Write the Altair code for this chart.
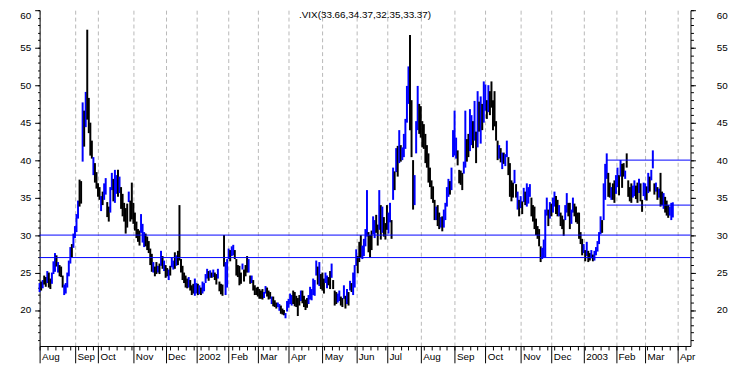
import altair as alt
import pandas as pd

# ---------------- data (daily bars, trading-day index) ----------------
HIGH = [
    # Aug 2001
    23.6, 23.8, 24.0, 24.6, 24.4, 25.2, 25.0, 24.2, 25.0, 26.5, 27.6, 27.3, 26.4, 26.0, 25.8, 24.6, 23.4, 23.6, 25.0, 26.6, 28.4, 28.8, 30.2,
    # Sep 2001
    31.2, 32.8, 34.6, 37.4, 37.2, 47.7, 46.6, 49.1, 57.4, 48.3, 45.0, 42.6, 40.4, 39.6, 38.4,
    # Oct 2001
    36.9, 36.4, 35.2, 35.8, 36.9, 37.6, 34.4, 33.8, 36.4, 38.3, 37.5, 38.7, 38.0, 38.7, 37.8, 36.4, 35.5, 34.3, 33.6, 34.2, 35.8, 34.6, 37.0,
    # Nov 2001
    34.3, 33.0, 31.8, 30.8, 30.6, 32.8, 31.5, 30.4, 30.2, 29.8, 29.2, 28.2, 27.5, 26.4, 25.8, 26.4, 25.9, 26.2, 27.9, 27.2, 26.6,
    # Dec 2001
    26.0, 25.6, 25.4, 25.9, 27.0, 26.6, 27.7, 27.3, 27.9, 34.0, 26.8, 25.9, 25.0, 24.6, 24.2, 24.4, 24.0, 23.3, 23.5, 24.2,
    # Jan 2002
    23.6, 23.5, 23.3, 23.0, 23.8, 23.6, 24.8, 25.5, 25.2, 25.3, 25.0, 25.4, 25.0, 24.8, 25.5, 23.8, 23.5, 23.4, 30.0, 26.4, 26.8,
    # Feb 2002
    28.2, 28.0, 28.5, 28.7, 28.0, 26.8, 26.0, 25.9, 25.0, 26.2, 25.4, 26.0, 27.2, 26.8, 24.6, 24.6, 24.0, 23.3, 23.0,
    # Mar 2002
    23.1, 22.8, 22.6, 22.8, 22.4, 23.2, 23.0, 22.6, 22.4, 21.8, 21.8, 21.3, 21.0, 21.0, 20.8, 20.6, 20.2, 20.0, 19.6, 21.2,
    # Apr 2002
    21.5, 22.2, 22.0, 22.6, 22.4, 21.9, 21.6, 22.0, 22.6, 22.6, 21.9, 21.4, 21.6, 22.0, 23.1, 22.8, 24.2, 24.0, 26.6, 25.8, 26.4, 24.8,
    # May 2002
    25.0, 24.2, 25.0, 24.6, 24.4, 25.2, 26.2, 24.0, 22.6, 22.4, 22.2, 22.6, 21.8, 21.6, 23.3, 21.9, 22.8, 22.4, 23.9, 23.6, 25.0, 26.0,
    # Jun 2002
    28.1, 27.2, 29.1, 30.0, 28.6, 29.5, 30.8, 36.0, 30.4, 30.0, 30.6, 32.5, 32.0, 32.7, 31.4, 36.0, 34.0, 33.8, 32.4, 31.6,
    # Jul 2002
    34.0, 33.0, 34.3, 32.0, 39.0, 38.5, 41.6, 41.9, 44.0, 42.0, 41.7, 43.5, 45.5, 49.9, 52.5, 56.7, 48.0, 40.0, 38.0, 45.2, 49.9, 47.5,
    # Aug 2002
    47.2, 45.2, 44.8, 43.5, 42.0, 40.9, 39.0, 37.3, 36.5, 34.7, 33.8, 34.0, 33.0, 32.4, 32.5, 33.4, 34.3, 36.4, 37.5, 37.2, 39.0, 44.0,
    # Sep 2002
    46.6, 43.0, 41.3, 38.7, 38.6, 38.3, 39.8, 46.6, 42.8, 43.5, 46.8, 46.0, 45.2, 47.9, 43.8, 49.2, 47.8, 48.5, 47.5, 50.5,
    # Oct 2002
    50.1, 48.0, 50.0, 49.2, 50.5, 48.0, 49.2, 45.2, 42.6, 42.0, 41.6, 41.0, 41.0, 40.8, 42.6, 40.4, 39.6, 37.3, 37.0, 38.7, 36.8, 35.8, 34.7,
    # Nov 2002
    35.2, 34.5, 36.3, 35.8, 36.9, 36.4, 36.8, 35.0, 34.0, 33.8, 32.2, 31.2, 30.8, 28.5, 28.3, 29.4, 33.4, 35.0, 33.4, 34.4,
    # Dec 2002
    34.2, 35.0, 35.8, 35.2, 34.7, 34.0, 33.0, 32.6, 32.1, 34.0, 35.6, 34.3, 34.3, 33.4, 35.0, 34.2, 33.8, 33.0, 33.0, 30.4, 29.5,
    # Jan 2003
    28.8, 28.0, 29.1, 27.9, 27.6, 28.0, 27.4, 27.9, 28.4, 29.2, 30.4, 32.5, 32.0, 36.9, 39.5, 40.9, 38.3, 37.0, 36.4, 36.9, 37.3,
    # Feb 2003
    38.0, 39.0, 38.0, 40.0, 39.5, 39.6, 38.6, 40.9, 37.3, 36.4, 36.9, 36.6, 37.3, 36.6, 37.0, 37.5, 36.9, 34.7, 37.0,
    # Mar 2003
    36.9, 36.5, 38.3, 37.8, 38.7, 41.3, 36.9, 37.0, 36.4, 36.2, 38.3, 35.8, 35.6, 35.1, 34.6, 34.0, 33.8, 34.3, 34.37,
]

LOW = [
    22.4, 22.6, 22.9, 23.4, 23.1, 23.6, 23.0, 22.8, 23.5, 24.8, 25.1, 25.8, 25.0, 24.5, 24.4, 23.0, 22.0, 22.2, 23.0, 24.5, 26.2, 27.0, 28.3,
    29.6, 30.4, 32.2, 33.8, 34.2, 39.8, 41.8, 44.4, 45.4, 43.6, 40.6, 40.2, 38.0, 37.0, 36.2,
    35.1, 34.7, 33.2, 34.0, 34.7, 35.4, 32.4, 31.8, 33.0, 36.0, 34.5, 34.3, 35.5, 35.1, 35.6, 33.5, 32.5, 31.8, 30.2, 31.0, 34.4, 31.8, 32.1,
    31.5, 30.6, 29.6, 29.1, 28.6, 30.3, 29.0, 28.4, 28.5, 28.0, 27.6, 26.0, 25.1, 25.0, 24.5, 24.8, 25.0, 24.8, 25.9, 25.5, 25.2,
    24.3, 24.5, 24.0, 24.6, 25.7, 25.4, 25.5, 25.9, 26.0, 26.6, 25.0, 24.0, 23.6, 23.0, 22.9, 23.0, 22.6, 22.0, 22.2, 21.9,
    22.2, 22.0, 22.1, 22.0, 22.2, 22.5, 23.6, 24.2, 23.9, 24.3, 24.3, 24.4, 24.0, 23.4, 24.2, 22.5, 22.1, 21.9, 25.8, 22.0, 23.0,
    26.8, 26.5, 27.2, 27.3, 26.8, 24.6, 24.4, 23.3, 23.5, 25.4, 23.8, 24.5, 25.0, 25.0, 23.5, 23.6, 22.6, 22.0, 22.0,
    21.8, 21.5, 21.5, 21.4, 21.6, 22.2, 21.8, 21.4, 21.5, 20.8, 20.5, 20.4, 20.2, 20.4, 19.9, 19.5, 19.4, 19.3, 18.9, 19.8,
    20.3, 20.8, 20.6, 20.8, 20.5, 20.4, 19.2, 20.6, 21.2, 20.9, 20.4, 20.0, 20.3, 20.8, 21.4, 21.3, 22.0, 21.9, 24.6, 23.4, 23.2, 22.8,
    22.6, 22.2, 23.6, 22.9, 23.3, 22.8, 24.3, 22.8, 20.6, 20.8, 21.0, 21.2, 20.6, 20.4, 21.5, 20.2, 20.8, 20.6, 22.6, 22.4, 22.0, 23.0,
    25.9, 24.9, 26.4, 27.0, 26.8, 27.2, 28.5, 29.8, 27.7, 27.0, 28.0, 30.1, 29.6, 30.3, 28.6, 30.7, 29.4, 30.3, 29.8, 29.4,
    30.7, 30.2, 31.7, 29.5, 34.7, 36.0, 38.4, 37.8, 39.6, 39.8, 40.0, 40.4, 41.5, 45.0, 47.5, 44.0, 40.4, 33.4, 34.0, 40.9, 44.0, 43.5,
    43.0, 41.7, 41.5, 39.6, 39.0, 37.0, 36.4, 34.8, 34.3, 32.0, 32.0, 31.2, 30.8, 31.0, 30.5, 31.0, 32.0, 33.8, 35.1, 35.4, 36.0, 40.4,
    40.6, 40.2, 39.3, 36.9, 36.7, 36.0, 38.2, 39.0, 39.8, 40.4, 41.2, 42.0, 41.6, 42.6, 39.6, 41.7, 43.8, 42.2, 44.0, 45.0,
    46.6, 45.5, 46.4, 46.0, 47.0, 44.0, 44.5, 42.6, 40.0, 40.2, 39.7, 38.8, 39.5, 39.2, 40.4, 38.0, 35.1, 34.5, 35.0, 36.9, 35.0, 33.4, 32.5,
    33.6, 32.8, 34.4, 34.0, 33.8, 34.2, 35.1, 32.5, 31.8, 30.8, 30.0, 29.5, 28.5, 26.4, 26.8, 27.0, 27.0, 32.6, 31.2, 32.2,
    32.5, 33.0, 33.8, 32.8, 32.5, 32.5, 31.2, 30.8, 29.9, 32.0, 33.0, 32.5, 30.8, 31.5, 33.0, 32.5, 31.7, 31.5, 29.5, 28.8, 27.3,
    27.6, 26.5, 27.2, 26.4, 26.6, 26.9, 26.5, 26.6, 27.3, 27.8, 28.8, 30.1, 30.3, 32.0, 34.7, 37.5, 35.1, 35.0, 34.7, 34.7, 34.3,
    35.5, 36.4, 35.3, 37.8, 36.3, 37.8, 37.5, 39.0, 35.1, 34.5, 34.3, 35.0, 35.2, 34.8, 34.3, 35.6, 34.5, 33.1, 35.2,
    34.7, 34.6, 35.6, 35.8, 37.3, 38.9, 35.4, 35.8, 34.7, 35.0, 33.8, 34.0, 33.5, 33.0, 32.6, 32.3, 32.6, 32.0, 32.35,
]

# 1 = up day (blue), 0 = down day (black)
UP = [
    1, 0, 1, 0, 0, 1, 0, 0, 1, 1, 1, 0, 1, 0, 0, 0, 1, 1, 1, 1, 1, 0, 1,
    1, 1, 1, 0, 0, 1, 0, 1, 0, 0, 0, 0, 1, 0, 0,
    0, 0, 1, 0, 1, 1, 0, 0, 1, 1, 0, 1, 1, 0, 1, 0, 0, 0, 0, 0, 1, 0, 0,
    0, 0, 0, 0, 0, 1, 1, 1, 0, 0, 0, 0, 0, 1, 0, 0, 1, 0, 1, 0, 1,
    0, 0, 1, 0, 1, 1, 0, 1, 0, 0, 0, 0, 0, 0, 0, 1, 0, 0, 0, 1,
    1, 0, 1, 0, 1, 1, 1, 1, 0, 1, 0, 1, 0, 0, 1, 0, 0, 0, 0, 1, 1,
    1, 0, 1, 1, 0, 0, 0, 0, 0, 1, 0, 0, 0, 1, 0, 1, 0, 0, 0,
    0, 0, 0, 0, 1, 1, 0, 0, 0, 1, 0, 0, 0, 1, 1, 0, 0, 0, 1, 1,
    1, 1, 1, 0, 0, 0, 0, 0, 1, 0, 0, 0, 0, 1, 1, 1, 1, 1, 1, 0, 1, 0,
    0, 0, 1, 1, 0, 0, 1, 0, 0, 0, 1, 1, 0, 0, 1, 0, 1, 0, 1, 0, 1, 1,
    1, 0, 0, 0, 1, 1, 1, 1, 0, 0, 0, 1, 1, 0, 0, 1, 0, 1, 0, 0,
    0, 1, 1, 0, 1, 0, 1, 0, 1, 0, 1, 1, 1, 1, 1, 0, 0, 0, 1, 1, 1, 0,
    0, 0, 0, 0, 0, 0, 0, 0, 0, 0, 1, 0, 0, 1, 0, 1, 1, 1, 1, 0, 1, 1,
    1, 1, 0, 0, 0, 0, 1, 1, 0, 0, 1, 1, 0, 1, 0, 1, 0, 1, 0, 1,
    1, 0, 1, 0, 0, 0, 0, 0, 0, 1, 0, 1, 0, 1, 1, 0, 0, 0, 0, 1, 0, 1, 0,
    1, 0, 1, 0, 1, 1, 1, 0, 0, 0, 0, 0, 0, 0, 1, 1, 1, 1, 0, 1,
    0, 1, 1, 0, 0, 1, 0, 0, 0, 1, 1, 0, 0, 1, 1, 0, 0, 0, 0, 0, 0,
    1, 0, 1, 0, 0, 1, 0, 1, 1, 1, 1, 1, 0, 1, 1, 1, 0, 0, 1, 0, 0,
    1, 1, 0, 1, 0, 0, 1, 0, 0, 0, 0, 1, 1, 0, 0, 1, 0, 0, 1,
    1, 0, 1, 0, 1, 1, 0, 1, 0, 1, 0, 0, 1, 0, 0, 0, 1, 1, 1,
]

# month starts (trading-day index) and their labels
MONTH_IDX = [0, 23, 38, 61, 82, 102, 123, 142, 162, 184, 206, 226, 248, 270, 290, 313, 333, 354, 375, 394, 415]
MONTH_LABELS = ["Aug", "Sep", "Oct", "Nov", "Dec", "2002", "Feb", "Mar", "Apr", "May", "Jun", "Jul",
                "Aug", "Sep", "Oct", "Nov", "Dec", "2003", "Feb", "Mar", "Apr"]
WEEK_IDX = list(range(0, 424, 5))

Y_MAJOR = [20, 25, 30, 35, 40, 45, 50, 55, 60]
Y_MINOR = list(range(16, 61))

HLINE_VALUES = [30, 27]
BOX_LEVELS = [40, 34]
BOX_START = [369, 369]
BOX_END = [423.5, 423.5]

TITLE = ".VIX(33.66,34.37,32.35,33.37)"

X_DOMAIN = [0, 423.5]
Y_DOMAIN = [15.2, 60]

# ---------------- chart ----------------
FONT = "Liberation Sans"
BLUE = "#0000ff"
W, H = 659, 340

n = min(len(HIGH), len(LOW), len(UP))
bars_df = pd.DataFrame({
    "i": list(range(n)),
    "high": HIGH[:n],
    "low": LOW[:n],
    "dir": ["up" if u else "down" for u in UP[:n]],
})

xscale = alt.Scale(domain=X_DOMAIN, nice=False, zero=False)
yscale = alt.Scale(domain=Y_DOMAIN, nice=False, zero=False)

labels_js = "[" + ",".join("'" + s + "'" for s in MONTH_LABELS) + "]"
idx_js = "[" + ",".join(str(v) for v in MONTH_IDX) + "]"
label_expr = labels_js + "[indexof(" + idx_js + ", datum.value)]"

x_grid_axis = alt.Axis(values=MONTH_IDX, grid=True, gridDash=[4, 3], gridColor="#b8b8b8",
                       gridWidth=1, tickSize=17, ticks=True, labels=False, domain=True,
                       domainColor="black", tickColor="black", title=None, orient="bottom")
x_label_axis = alt.Axis(values=MONTH_IDX, grid=False, ticks=False, tickSize=0, domain=False,
                        labels=True, labelExpr=label_expr, labelAlign="left", labelOffset=2,
                        labelPadding=6, labelBaseline="top", labelFlush=False, labelOverlap=False,
                        labelFont=FONT, labelFontSize=10, labelColor="black", title=None,
                        orient="bottom")
x_week_axis = alt.Axis(values=WEEK_IDX, grid=False, ticks=True, tickSize=4, tickColor="black",
                       domain=False, labels=False, title=None, orient="bottom")

y_left_major = alt.Axis(values=Y_MAJOR, grid=False, tickSize=5, tickColor="black", domain=True,
                        domainColor="black", labelPadding=4, labelFont=FONT, labelFontSize=10,
                        labelColor="black", title=None, orient="left", labelFlush=True)
y_left_minor = alt.Axis(values=Y_MINOR, grid=False, tickSize=2, tickColor="black", domain=False,
                        labels=False, title=None, orient="left")
y_right_major = alt.Axis(values=Y_MAJOR, grid=False, tickSize=5, tickColor="black", domain=True,
                         domainColor="black", labelPadding=21, labelFont=FONT, labelFontSize=10,
                         labelColor="black", title=None, orient="right", labelFlush=True)
y_right_minor = alt.Axis(values=Y_MINOR, grid=False, tickSize=3, tickColor="black", domain=False,
                         labels=False, title=None, orient="right")

bars = alt.Chart(bars_df).mark_rule(strokeWidth=2).encode(
    x=alt.X("i:Q", scale=xscale, axis=x_grid_axis),
    y=alt.Y("low:Q", scale=yscale, axis=y_left_major),
    y2="high:Q",
    color=alt.Color("dir:N", scale=alt.Scale(domain=["up", "down"], range=[BLUE, "#000000"]), legend=None),
)

hlines = alt.Chart(pd.DataFrame({"v": HLINE_VALUES})).mark_rule(color=BLUE, strokeWidth=1).encode(
    y=alt.Y("v:Q", scale=yscale, axis=None),
)

box_df = pd.DataFrame({"y": BOX_LEVELS, "x0": BOX_START, "x1": BOX_END})
box = alt.Chart(box_df).mark_rule(color=BLUE, strokeWidth=1).encode(
    x=alt.X("x0:Q", scale=xscale, axis=x_label_axis),
    x2="x1:Q",
    y=alt.Y("y:Q", scale=yscale, axis=y_right_major),
)

weeks = alt.Chart(pd.DataFrame({"w": WEEK_IDX})).mark_point(opacity=0).encode(
    x=alt.X("w:Q", scale=xscale, axis=x_week_axis),
    y=alt.value(0),
)

minor_df = pd.DataFrame({"m": Y_MINOR})
minor_left = alt.Chart(minor_df).mark_point(opacity=0).encode(
    y=alt.Y("m:Q", scale=yscale, axis=y_left_minor),
    x=alt.value(0),
)
minor_right = alt.Chart(minor_df).mark_point(opacity=0).encode(
    y=alt.Y("m:Q", scale=yscale, axis=y_right_minor),
    x=alt.value(0),
)

title = alt.Chart(pd.DataFrame({"t": [TITLE]})).mark_text(
    font=FONT, fontSize=10, color="black", align="center", baseline="top"
).encode(
    text="t:N",
    x=alt.value(W / 2),
    y=alt.value(0),
)

chart = alt.layer(bars, hlines, box, weeks, minor_left, minor_right, title).resolve_axis(
    x="independent", y="independent"
).properties(
    width=W,
    height=H,
    autosize=alt.AutoSizeParams(type="none"),
    padding={"left": 32, "top": 0, "right": 40, "bottom": 18},
    background="white",
).configure_view(strokeWidth=0)

chart.save("out.html", embed_options={"renderer": "svg", "actions": False})
